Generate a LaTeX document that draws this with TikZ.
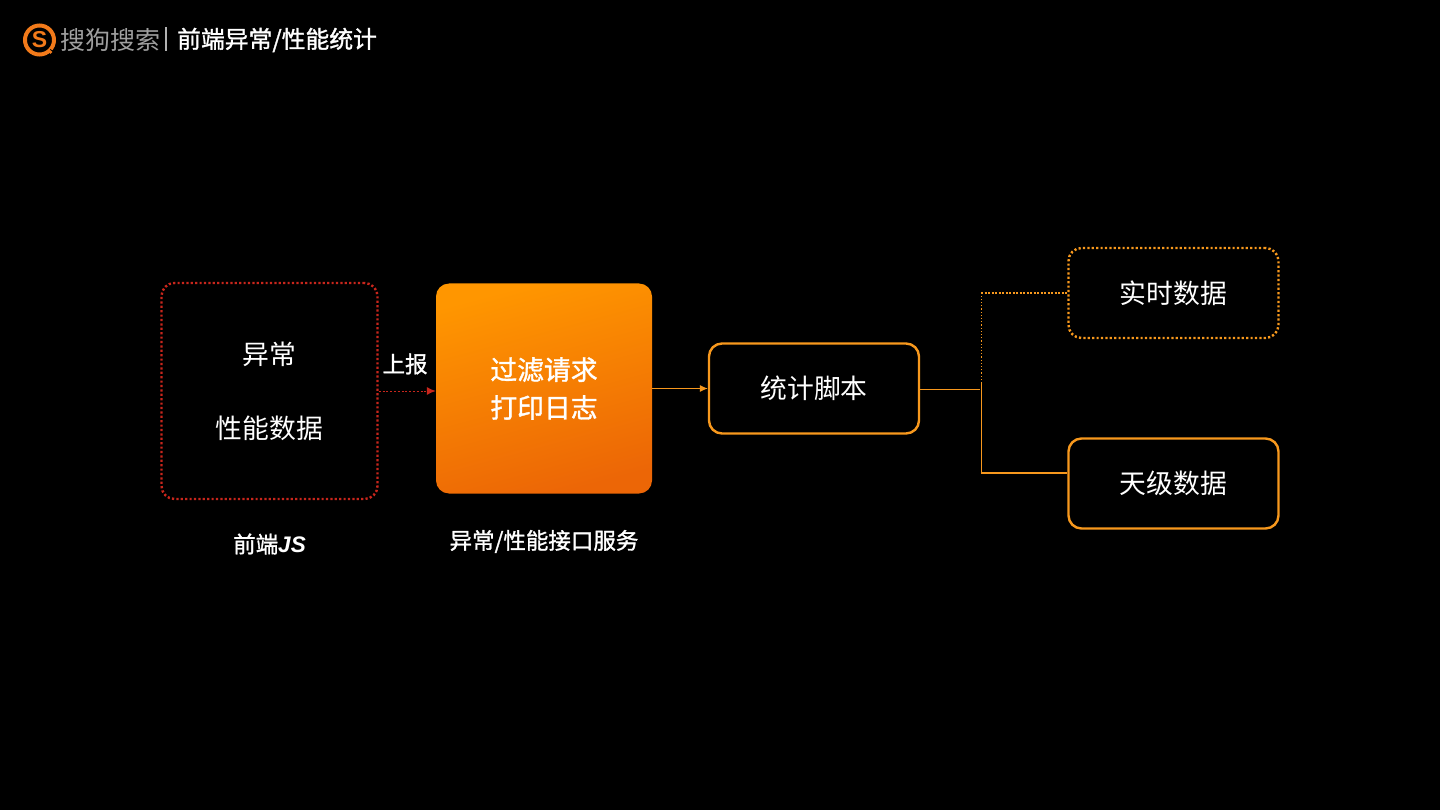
\documentclass[tikz,border=0pt]{standalone}
\usepackage{fontspec}
\setmainfont{Noto Sans CJK SC}
\newfontfamily\medfont[FakeBold=1.3]{Noto Sans CJK SC}
\newfontfamily\latinfont{Liberation Sans}
\usetikzlibrary{arrows.meta}
\definecolor{org}{HTML}{F7981D}
\definecolor{redd}{HTML}{C8261C}
\definecolor{logoc}{HTML}{F27A1A}
\tikzset{
  box/.style={rounded corners=13pt,line width=2.4pt,text=white,font=\fontsize{26.8}{30}\selectfont,inner sep=0pt,align=center},
  orgbox/.style={box,draw=org},
  bodytxt/.style={text=white,inner sep=0pt,font=\fontsize{26.8}{30}\selectfont},
  lbl/.style={text=white,font=\fontsize{22.5}{26}\selectfont\medfont,inner sep=0pt},
  thinln/.style={draw=org,line width=1pt},
  dots/.style={line width=2.4pt,dash pattern=on 2.2pt off 2.2pt},
}
\begin{document}
\begin{tikzpicture}[x=1pt,y=-1pt]
\path[fill=black,use as bounding box] (0,0) rectangle (1440,810);
% logo
\node[draw=logoc,line width=4pt,circle,minimum size=29pt,inner sep=0pt,text=logoc,font=\fontsize{23}{23}\selectfont\bfseries\latinfont] (logo) at (39.5,40) {S};
\fill[black] (50,49) -- (57,53) -- (50,57) -- cycle;
\fill[logoc] (50.5,52) circle (1.8pt);
\node[text=gray!75,anchor=west,inner sep=0pt,font=\fontsize{25}{28}\selectfont] (brand) at (60,40.5) {搜狗搜索};
\node[fill=gray!60,minimum width=2pt,minimum height=24pt,inner sep=0pt] (sep) at (165.5,39.5) {};
\node[text=white,anchor=west,inner sep=0pt,font=\fontsize{23.8}{26}\selectfont\medfont] (title) at (177,40) {前端异常/性能统计};
% boxes
\node[box,draw=redd,dots,minimum width=216pt,minimum height=216pt] (js) at (269.5,391) {};
\node[bodytxt] (t1) at (269.5,354) {异常};
\node[bodytxt] (t2) at (269.5,428.5) {性能数据};
\node[rounded corners=13pt,minimum width=216pt,minimum height=210pt,inner sep=0pt] (api) at (544,388.5) {};
\shade[rounded corners=13pt,
  top color={rgb,255:red,255;green,150;blue,0},bottom color={rgb,255:red,236;green,102;blue,6},shading angle=15]
  (436,283.5) rectangle (652,493.5);
\node[text=white,align=center,inner sep=0pt,font=\fontsize{26.8}{38}\selectfont\medfont] (apit) at (544,388.5) {过滤请求\\打印日志};
\node[orgbox,minimum width=210pt,minimum height=90pt] (script) at (814,388.5) {\raisebox{-0.5pt}{统计脚本}};
\node[orgbox,dots,minimum width=210pt,minimum height=90pt] (rt) at (1173.5,293) {\raisebox{-0.5pt}{实时数据}};
\node[orgbox,minimum width=210pt,minimum height=90pt] (day) at (1173.5,483.5) {\raisebox{-0.5pt}{天级数据}};
% labels
\node[lbl] (l1) at (269.5,544) {前端\textit{\latinfont\bfseries JS}};
\node[lbl] (l2) at (544,541.5) {异常/性能接口服务};
\node[lbl] (up) at (405,364) {上报};
% connectors
\draw[redd,line width=1pt,dash pattern=on 2pt off 1.8pt] (js.east |- 0,391) -- (430,391);
\draw[redd,line width=1pt,-{Latex[length=9pt,width=8pt]}] (429,391) -- (api.west |- 0,391);
\draw[thinln,-{Latex[length=8pt,width=7pt]}] (api.east |- 0,388.5) -- (script.west);
\coordinate (jn) at (981,389.5);
\coordinate (top) at (981,293);
\coordinate (bot) at (981,473);
\draw[thinln] (script.east |- jn) -- (980,389.5);
\draw[thinln] (981,382) -- (981,473);
\draw[org,line width=2pt] (980.5,473) -- (day.west |- bot);
\draw[org,line width=1pt,dash pattern=on 1.2pt off 2pt] (981,380) -- (top);
\draw[org,line width=2pt,dash pattern=on 2.2pt off 1.3pt] (top) -- (rt.west);
\end{tikzpicture}
\end{document}
